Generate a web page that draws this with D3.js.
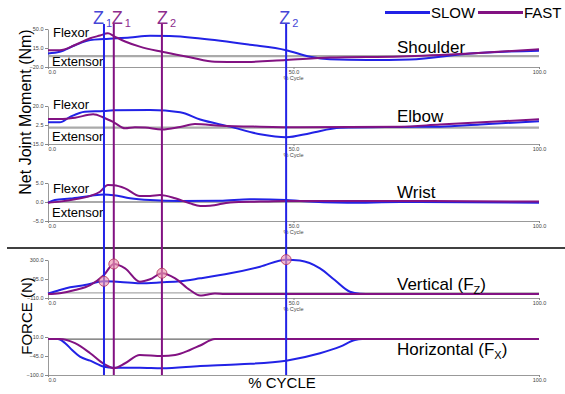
<!DOCTYPE html>
<html>
<head>
<meta charset="utf-8">
<script src="https://cdn.jsdelivr.net/npm/d3@7"></script>
<style>
  body { margin: 0; background: #fff; }
  svg { display: block; font-family: "Liberation Sans", Arial, sans-serif; }
</style>
</head>
<body>
<svg id="chart" width="565" height="394"></svg>
<script>
// data (x = % cycle)
const panelNames = ["Shoulder", "Elbow", "Wrist", "Vertical (F", "Horizontal (F"];
const panelSubs = ["", "", "", "Z", "X"];
const yTicks = [[-20, 15, 50], [-15, 2.5, 20], [-5, 0, 5], [-110, 95, 300], [-100, -45, 10]];
const refValues = [0, 0, 0, -55, 4];
const xTicks = [0, 50, 100];

const shoulderSlow = [[0,5],[2.4,8],[5.5,20],[8.6,29.5],[11.4,31.5],[16.7,34.5],[20.8,37.5],[24.8,37],[31,32.5],[41.1,21],[48.5,11],[53.4,-1],[57.4,-5.5],[65,-7],[73.7,-6],[86,5],[100,10]];
const shoulderFast = [[0,11],[2.4,11],[5.5,20.5],[8.6,33],[10.6,38],[12.2,42],[13.4,37],[15.7,27],[18.7,17.5],[23.2,8],[28.9,-2],[34,-10.5],[39.1,-11],[48.5,-7],[57.4,-2.5],[71.7,-0.5],[86,5],[100,12.5]];
const elbowSlow = [[0,5],[2.4,5],[4.5,10],[7.5,14.8],[11.4,15.4],[13.4,16],[20.8,16.3],[26.9,14.2],[31,7.5],[37.1,1],[43.2,-6],[48.5,-8.8],[53.4,-5],[59.5,0],[71.7,0.7],[79.8,1],[88,3],[100,6]];
const elbowFast = [[0,8],[2.4,8],[5.5,9.2],[9.2,12.4],[11.4,9.2],[13.4,5],[15.7,-0.5],[17.7,0.4],[19.8,0.1],[23.2,-1.7],[26.9,0.7],[29.9,3.4],[35.2,1.9],[43.2,0.9],[51.3,0.4],[71.7,0.9],[79.8,3],[100,7.7]];
const wristSlow = [[0,-0.2],[1.4,0.5],[4.5,0.9],[8.6,1.6],[11.4,2],[13.4,1.8],[16.7,1],[20.8,0.5],[26.9,0.25],[35,0.3],[41.1,0.7],[48.5,0.55],[51.3,0.25],[61,-0.2],[71.7,0],[100,-0.2]];
const wristFast = [[0,-0.2],[2.4,0.1],[5.5,0.7],[8.6,1.6],[10.6,2.7],[12.2,4.45],[13.4,4.4],[15.7,3.6],[18.7,1.6],[20.8,1.6],[22.8,1.85],[25.9,1],[28.9,-0.35],[31,-1.05],[33,-1],[37.1,-0.1],[43.2,0.1],[48.5,0.25],[71.7,0.25],[100,0.1]];
const vertSlow = [[0,-62],[2.4,-24],[4.5,5],[7.5,30],[11.4,70],[14.7,63],[18.7,49],[23.2,59],[26.9,70],[31,102],[37.1,156],[43.2,228],[48.5,304],[51.3,295],[55.4,210],[58.4,84],[61.5,-42],[63.5,-63],[66,-66],[100,-66]];
const vertFast = [[0,-68],[2.4,-59],[5.5,-24],[8.6,30],[11.4,138],[13.4,257],[15.7,210],[18.7,66],[20.8,92],[23.2,157],[25.9,102],[28.9,-24],[31,-83],[32,-78],[34,-62],[36,-66],[100,-66]];
const horizSlow = [[0,4.2],[2,4.2],[3.5,-8],[4.9,-27.5],[6.5,-47],[8.6,-58.5],[11.4,-76],[13.4,-79],[18.7,-79],[23.2,-80.5],[31,-74],[39.1,-69],[48.5,-58.5],[55.4,-37],[59.5,-18],[62.5,1.3],[64,4],[100,4.2]];
const horizFast = [[0,4.2],[2.4,4.2],[5.5,-8],[8.6,-37],[11.4,-68],[13.4,-80.5],[15.7,-66],[18.7,-42],[23.2,-45],[25.9,-42],[28.9,-27.5],[31,-14.5],[34,4.2],[100,4.2]];

const slowSeries = [shoulderSlow, elbowSlow, wristSlow, vertSlow, horizSlow];
const fastSeries = [shoulderFast, elbowFast, wristFast, vertFast, horizFast];

// Z events: % cycle, which trial, subscript
const zEvents = [
  { pct: 11.4, trial: "slow", sub: "1" },
  { pct: 13.4, trial: "fast", sub: "1" },
  { pct: 23.2, trial: "fast", sub: "2" },
  { pct: 48.5, trial: "slow", sub: "2" }
];

// layout
const W = 565, H = 394;
const panelTop = [29, 106, 183, 260, 337], panelH = 38;
const nameY = [53, 122, 198, 290, 355];
const flexorY = [37, 109, 193], extensorY = [66, 141, 217];
const zLabelDx = [-11, -2, -5, -7];
const blue = "#2222e6", purple = "#821282";

const svg = d3.select("#chart");
const x = d3.scaleLinear().domain([0, 100]).range([48, 539]);

const line = (y) => d3.line()
  .x(d => x(d[0]))
  .y(d => y(d[1]))
  .curve(d3.curveMonotoneX);

const yScales = panelNames.map((n, i) =>
  d3.scaleLinear().domain(d3.extent(yTicks[i])).range([panelTop[i] + panelH, panelTop[i]]));

panelNames.forEach((name, i) => {
  const y = yScales[i];
  const g = svg.append("g");

  g.append("line")
    .attr("x1", x(0)).attr("x2", x(100))
    .attr("y1", y(refValues[i])).attr("y2", y(refValues[i]))
    .attr("stroke", i == 4 ? "#666" : "#aaa")
    .attr("stroke-width", i < 3 ? 2.2 : 1.3);

  const ya = g.append("g")
    .attr("transform", `translate(${x(0)},0)`)
    .call(d3.axisLeft(y).tickValues(yTicks[i]).tickSize(3).tickSizeOuter(0)
      .tickPadding(1.5).tickFormat(d3.format(".1f")));
  const xa = g.append("g")
    .attr("transform", `translate(0,${y.range()[0]})`)
    .call(d3.axisBottom(x).tickValues(i == 4 ? [0, 100] : xTicks).tickSize(2).tickSizeOuter(0)
      .tickFormat(d3.format(".1f")));
  xa.selectAll("text").attr("y", 3.5).filter(d => d == 0).attr("text-anchor", "start");

  [ya, xa].forEach(a => {
    a.select(".domain").attr("stroke", "#999");
    a.selectAll(".tick line").attr("stroke", "#888");
    a.selectAll("text").attr("font-size", 5.5).attr("fill", "#444")
      .attr("font-family", "Liberation Sans, Arial, sans-serif");
  });

  if (i < 4) {
    g.append("text").attr("x", x(50)).attr("y", y.range()[0] + 13)
      .attr("text-anchor", "middle").attr("font-size", 5.5).attr("fill", "#444")
      .text("% Cycle");
  }

  g.append("path").datum(slowSeries[i])
    .attr("d", line(y)).attr("fill", "none").attr("stroke", blue).attr("stroke-width", 2);
  g.append("path").datum(fastSeries[i])
    .attr("d", line(y)).attr("fill", "none").attr("stroke", purple).attr("stroke-width", 2);

  const t = g.append("text").attr("x", 397).attr("y", nameY[i]).attr("font-size", 17).text(name);
  if (panelSubs[i]) {
    t.append("tspan").attr("font-size", 11).attr("dy", 4).text(panelSubs[i]);
    t.append("tspan").attr("dy", -4).text(")");
  }

  if (i < 3) {
    g.append("text").attr("x", 53).attr("y", flexorY[i]).attr("font-size", 13).text("Flexor");
    g.append("text").attr("x", 52).attr("y", extensorY[i]).attr("font-size", 13).text("Extensor");
  }
});

// separator between moments and forces
svg.append("line").attr("x1", 7).attr("x2", W).attr("y1", 248).attr("y2", 248)
  .attr("stroke", "#000").attr("stroke-width", 1.3);

// Z event lines and labels
const zTop = panelTop[0] - 5, zBottom = yScales[4].range()[0];
zEvents.forEach((e, k) => {
  const c = e.trial == "slow" ? blue : purple;
  svg.append("line").attr("x1", x(e.pct)).attr("x2", x(e.pct))
    .attr("y1", zTop).attr("y2", zBottom)
    .attr("stroke", c).attr("stroke-width", 2);
  const t = svg.append("text").attr("x", x(e.pct) + zLabelDx[k]).attr("y", zTop)
    .attr("fill", e.trial == "slow" ? "#4646d6" : "#8c2c8c")
    .attr("font-size", 18).text("Z");
  t.append("tspan").attr("font-size", 11).attr("dx", 2).attr("dy", 3).text(e.sub);
});

// circles on the vertical force at each Z event
zEvents.forEach(e => {
  const s = e.trial == "slow" ? vertSlow : vertFast;
  const p = s.find(d => d[0] == e.pct);
  svg.append("circle").attr("cx", x(p[0])).attr("cy", yScales[3](p[1])).attr("r", 5)
    .attr("fill", "rgba(236,150,175,0.65)").attr("stroke", "#b0305a").attr("stroke-width", 0.8);
});

// axis titles
svg.append("text").attr("transform", "translate(31,112) rotate(-90)")
  .attr("text-anchor", "middle").attr("font-size", 16).text("Net Joint Moment (Nm)");
svg.append("text").attr("transform", "translate(32,316) rotate(-90)")
  .attr("text-anchor", "middle").attr("font-size", 15).text("FORCE (N)");
svg.append("text").attr("x", 282).attr("y", 388)
  .attr("text-anchor", "middle").attr("font-size", 15).text("% CYCLE");

// legend
const legend = [{ name: "SLOW", color: blue }, { name: "FAST", color: purple }];
legend.forEach((l, k) => {
  const lx = 385 + k * 93;
  svg.append("line").attr("x1", lx).attr("x2", lx + 45).attr("y1", 12.5).attr("y2", 12.5)
    .attr("stroke", l.color).attr("stroke-width", 3);
  svg.append("text").attr("x", lx + 46).attr("y", 17.5).attr("font-size", 15).text(l.name);
});
</script>
</body>
</html>
